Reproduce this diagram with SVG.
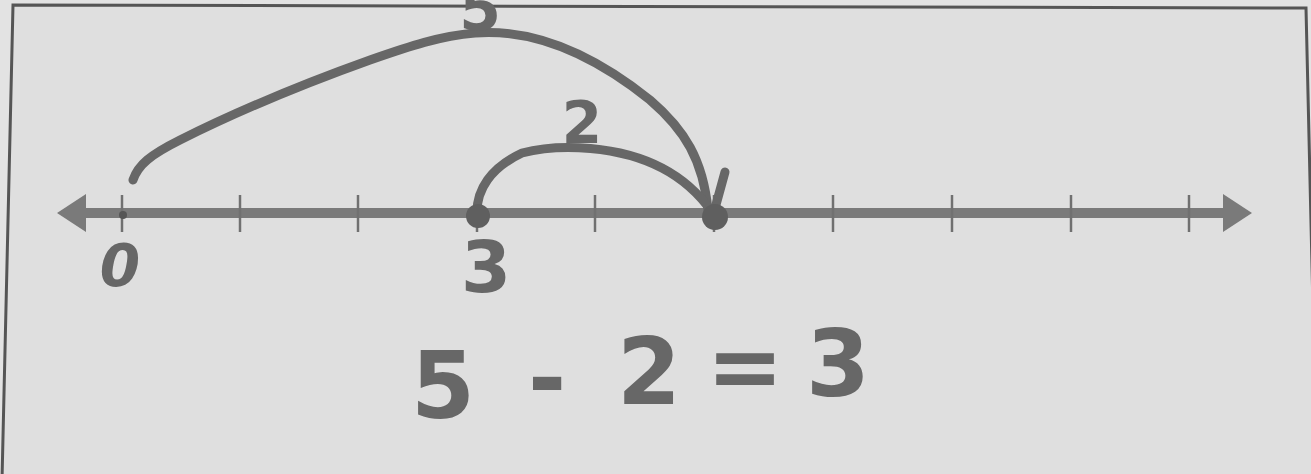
<svg xmlns="http://www.w3.org/2000/svg" width="1311" height="474" viewBox="0 0 1311 474">
  <style>
    .hand { fill: none; stroke: #676767; stroke-width: 9; stroke-linecap: round; stroke-linejoin: round; }
    .tick { stroke: #707070; stroke-width: 2.5; }
    .lbl { font-family: "DejaVu Sans", "Liberation Sans", sans-serif; font-weight: bold; fill: #676767; text-anchor: middle; }
  </style>
  <rect width="1311" height="474" fill="#e3e3e3"/>
  <path id="border" d="M2,480 L13,5 L1306,8 L1317,480" fill="#dfdfdf" stroke="#555" stroke-width="3"/>

  <g id="number-line">
    <line x1="80" y1="213" x2="1228" y2="213" stroke="#7a7a7a" stroke-width="10"/>
    <polygon points="57,213 86,194 86,232" fill="#7a7a7a"/>
    <polygon points="1252,213 1223,194 1223,232" fill="#7a7a7a"/>
    <g id="ticks">
      <line class="tick" x1="122" y1="195" x2="122" y2="232"/>
      <line class="tick" x1="240" y1="195" x2="240" y2="232"/>
      <line class="tick" x1="358" y1="195" x2="358" y2="232"/>
      <line class="tick" x1="477" y1="195" x2="477" y2="232"/>
      <line class="tick" x1="595" y1="195" x2="595" y2="232"/>
      <line class="tick" x1="714" y1="195" x2="714" y2="232"/>
      <line class="tick" x1="833" y1="195" x2="833" y2="232"/>
      <line class="tick" x1="952" y1="195" x2="952" y2="232"/>
      <line class="tick" x1="1071" y1="195" x2="1071" y2="232"/>
      <line class="tick" x1="1189" y1="195" x2="1189" y2="232"/>
    </g>
    <circle cx="123" cy="215" r="4" fill="#555"/>
  </g>

  <g id="label-0"><text class="lbl" x="120" y="286" font-size="58" font-style="italic">0</text></g>
  <g id="label-3"><text class="lbl" x="486" y="292" font-size="72">3</text></g>

  <g id="connectors">
    <path id="jump-5" class="hand" d="M133,180 C138,165 150,155 180,140 C230,115 300,85 370,60 C410,46 440,36 475,33 C540,28 600,60 650,100 C685,130 703,160 708,210"/>
    <path id="barb" class="hand" d="M714,212 L725,172"/>
    <path id="jump-2" class="hand" d="M477,212 C477,190 490,168 522,153 C560,143 620,146 662,168 C685,180 700,195 712,212"/>
  </g>

  <g id="point-3"><circle cx="478" cy="216" r="12" fill="#5f5f5f"/></g>
  <g id="point-5"><circle cx="715" cy="217" r="13" fill="#5f5f5f"/></g>

  <g id="label-jump5"><text class="lbl" x="480" y="30" font-size="60">5</text></g>
  <g id="label-jump2"><text class="lbl" x="582" y="143" font-size="58">2</text></g>

  <g id="equation">
    <text class="lbl" font-size="92" x="443 494 547 597 649 697 745 791 838" y="418 410 410 406 404 400 398 396 396">5 - 2 = 3</text>
  </g>
</svg>
